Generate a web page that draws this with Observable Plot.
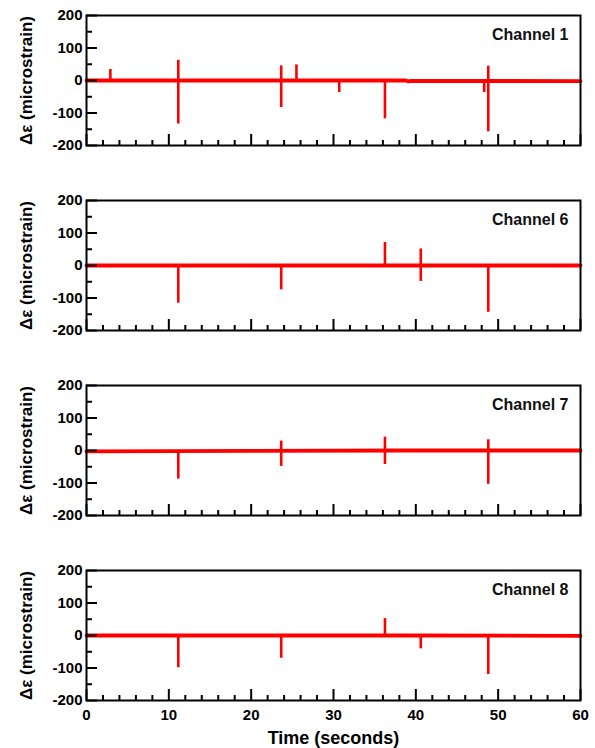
<!DOCTYPE html>
<html><head><meta charset="utf-8">
<script src="https://cdn.jsdelivr.net/npm/d3@7"></script>
<script src="https://cdn.jsdelivr.net/npm/@observablehq/plot@0.6"></script>
<style>
body{margin:0;background:#fff}
#chart{position:relative;width:595px;height:748px;font-family:"Liberation Sans",Arial,Helvetica,sans-serif}
#chart svg{position:absolute;left:0}
</style>
</head><body><div id="chart"></div>
<script>
// ---- data ----
const channelNames = ["Channel 1", "Channel 6", "Channel 7", "Channel 8"];

// spike events per channel: time (s), upper end, lower end (microstrain)
const spikeTimes1 = [2.9, 11.15, 23.65, 25.5, 30.7, 36.25, 48.3, 48.8];
const spikeHigh1  = [34, 62, 45, 48, 0, 0, 0, 44];
const spikeLow1   = [0, -134, -83, 0, -37, -118, -37, -158];

const spikeTimes6 = [11.15, 23.65, 36.25, 40.6, 48.8];
const spikeHigh6  = [0, 0, 71, 51, 0];
const spikeLow6   = [-116, -75, 0, -49, -144];

const spikeTimes7 = [11.15, 23.65, 36.25, 48.8];
const spikeHigh7  = [0, 29, 41, 33];
const spikeLow7   = [-88, -49, -43, -104];

const spikeTimes8 = [11.15, 23.65, 36.25, 40.6, 48.8];
const spikeHigh8  = [0, 0, 52, 0, 0];
const spikeLow8   = [-99, -70, 0, -41, -120];

// baseline trace (time, value) per channel
const baseTimes  = [0, 20, 38.8, 39.1, 39.4, 60];
const baseValues1 = [0, 0, 0, -3, -1, -2];
const baseValues6 = [0, 0, 0, 0, 0, 0];
const baseValues7 = [-3, -1, 0, 0, 0, 0];
const baseValues8 = [0, 0, 0, 0, 0, -1];

const xMajorTicks = [0, 10, 20, 30, 40, 50, 60];
const xMinorTicks = [2, 4, 6, 8, 12, 14, 16, 18, 22, 24, 26, 28, 32, 34, 36, 38, 42, 44, 46, 48, 52, 54, 56, 58];
const yMajorTicks = [-200, -100, 0, 100, 200];
const yMinorTicks = [-150, -50, 50, 150];
const xTitle = "Time (seconds)";
const yTitle = "Δε (microstrain)";

// ---- build tables ----
const spikeSets = [
  [spikeTimes1, spikeHigh1, spikeLow1],
  [spikeTimes6, spikeHigh6, spikeLow6],
  [spikeTimes7, spikeHigh7, spikeLow7],
  [spikeTimes8, spikeHigh8, spikeLow8]
];
const baseSets = [baseValues1, baseValues6, baseValues7, baseValues8];

const frameTops = [15, 200, 385, 570];
const panelH = 130;
const FONT = '"Liberation Sans", Arial, Helvetica, sans-serif';
const chart = document.getElementById("chart");

channelNames.forEach((name, i) => {
  const [ts, hs, ls] = spikeSets[i];
  const spikes = ts.map((t, j) => ({t, hi: hs[j], lo: ls[j]}));
  const base = baseTimes.map((t, j) => ({t, v: baseSets[i][j]}));
  const last = i === channelNames.length - 1;
  const mt = 12, mb = last ? 48 : 12;
  const marks = [
    Plot.lineY(base, {x: "t", y: "v", stroke: "#ff0000", strokeWidth: 3.8}),
    Plot.ruleX(spikes, {x: "t", y1: "lo", y2: "hi", stroke: "#ff0000", strokeWidth: 2.6}),
    Plot.axisY(yMajorTicks, {anchor: "left", tickSize: -11, tickPadding: 15, strokeWidth: 2, label: null, fontSize: 15, fontWeight: "bold", tickFormat: d => `${d}`}),
    Plot.axisY(yMinorTicks, {anchor: "left", tickSize: -6, strokeWidth: 2, label: null, tickFormat: () => ""}),
    Plot.axisX(xMajorTicks, {anchor: "bottom", tickSize: -11, tickPadding: 20, strokeWidth: 2, label: null, fontSize: 15, fontWeight: "bold", tickFormat: last ? (d => `${d}`) : (() => "")}),
    Plot.axisX(xMinorTicks, {anchor: "bottom", tickSize: -5, strokeWidth: 2, label: null, tickFormat: () => ""}),
    Plot.frame({stroke: "black", strokeWidth: 2}),
    Plot.text([name], {frameAnchor: "top-right", dx: -12, dy: 19, lineAnchor: "middle", textAnchor: "end", fontSize: 16, fontWeight: "bold", fill: "#111"}),
    Plot.text([yTitle], {frameAnchor: "left", rotate: -90, dx: -60, lineAnchor: "middle", textAnchor: "middle", fontSize: 17, fontWeight: "bold", fill: "black"})
  ];
  if (last) {
    marks.push(Plot.text([xTitle], {frameAnchor: "bottom", dy: 38, lineAnchor: "middle", textAnchor: "middle", fontSize: 18, fontWeight: "bold", fill: "black"}));
  }
  const svg = Plot.plot({
    width: 595,
    height: mt + panelH + mb,
    marginLeft: 86, marginRight: 15, marginTop: mt, marginBottom: mb,
    x: {domain: [0, 60], axis: null},
    y: {domain: [-200, 200], axis: null},
    style: {fontFamily: FONT, color: "black", background: "transparent", overflow: "visible"},
    marks
  });
  svg.style.top = (frameTops[i] - mt) + "px";
  chart.appendChild(svg);
});
</script>
</body></html>
